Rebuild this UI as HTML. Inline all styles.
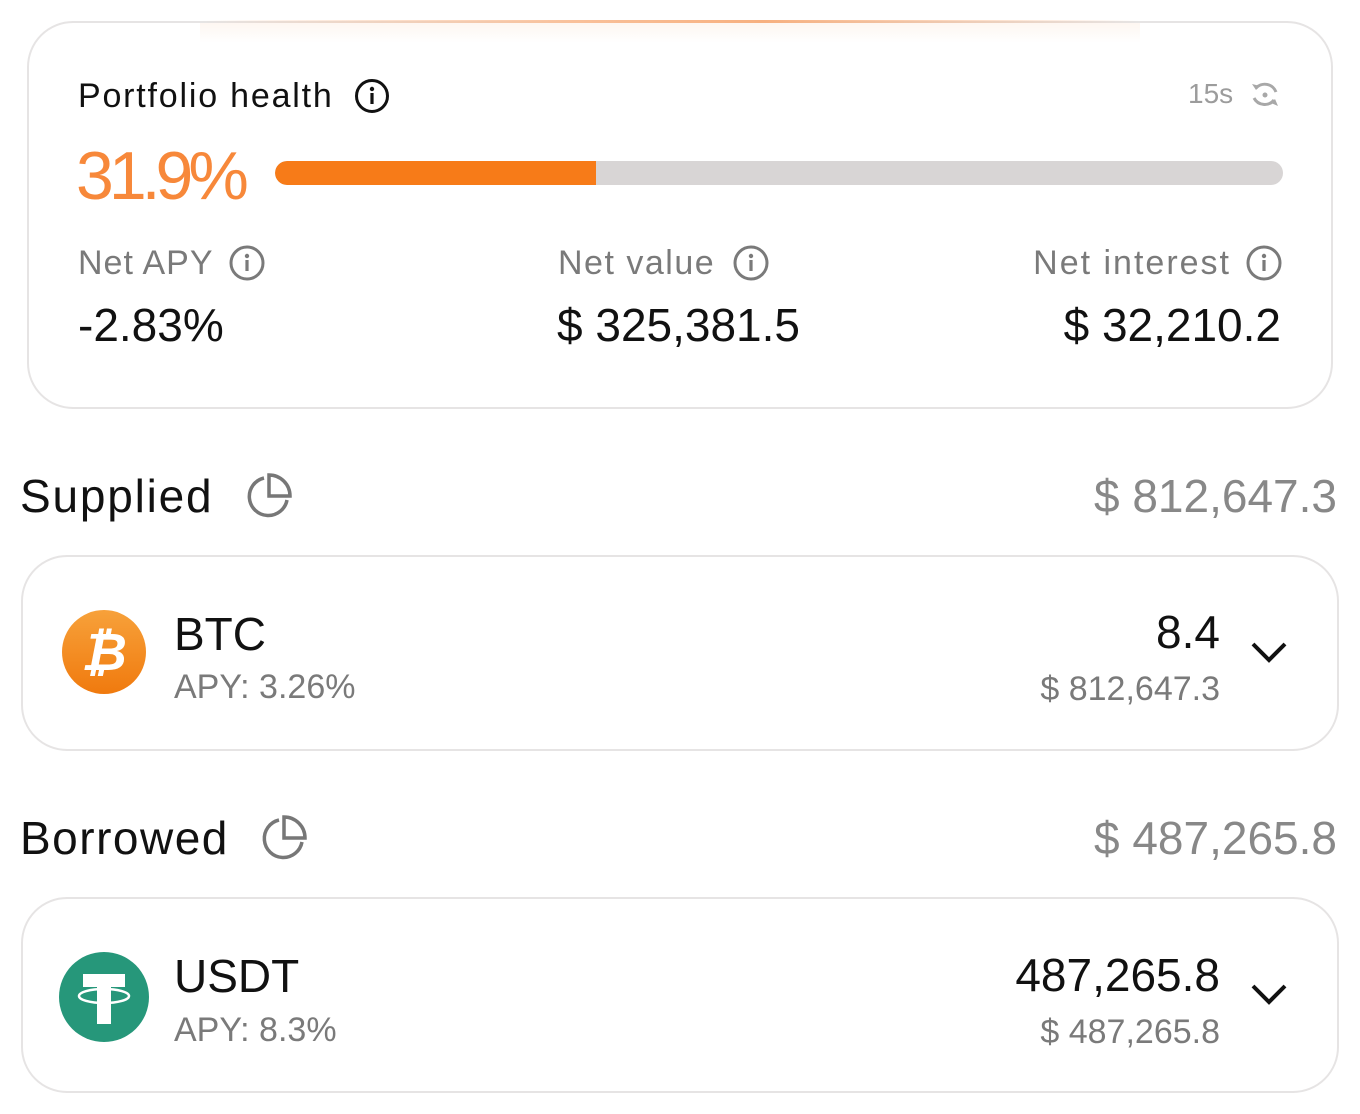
<!DOCTYPE html>
<html><head><meta charset="utf-8"><style>
body{margin:0;width:1360px;height:1114px;background:#fff;font-family:"Liberation Sans",sans-serif;position:relative;overflow:hidden}
.a{position:absolute;white-space:nowrap;line-height:1}
.card{position:absolute;border:2px solid #e6e4e4;border-radius:46px;box-sizing:border-box;background:#fff}
.g{color:#7a7a7a}
</style></head><body>
<div class="card" style="left:27px;top:21px;width:1306px;height:388px"></div>
<div class="a" style="left:200px;top:20px;width:940px;height:3px;background:linear-gradient(90deg,rgba(255,255,255,0),#f9c09a 40%,#f7b080 60%,rgba(255,255,255,0))"></div>
<div class="a" style="left:200px;top:23px;width:940px;height:20px;background:linear-gradient(180deg,rgba(252,230,215,.35),rgba(255,255,255,0))"></div>
<div class="a" style="left:78px;top:79px;font-size:34px;color:#111;letter-spacing:1.8px">Portfolio health</div>
<svg class="a" style="left:354px;top:78px" width="36" height="36"><circle cx="18" cy="18" r="15.5" fill="none" stroke="#111" stroke-width="3"/><circle cx="18" cy="11" r="2.2" fill="#111"/><rect x="16.4" y="15" width="3.2" height="11" fill="#111"/></svg>
<div class="a" style="left:1188px;top:80px;font-size:28px;color:#9c9c9c">15s</div>
<svg class="a" style="left:1248px;top:78px" width="34" height="34" viewBox="0 0 34 34"><path d="M8 10 A12 12 0 0 1 28 14" fill="none" stroke="#a8a8a8" stroke-width="3"/><path d="M26 22 A12 12 0 0 1 6 20" fill="none" stroke="#a8a8a8" stroke-width="3"/><path d="M4 6 L8 12 L12 8Z" fill="#a8a8a8"/><path d="M30 28 L27 21 L23 25Z" fill="#a8a8a8"/><circle cx="17" cy="17" r="2.5" fill="#a8a8a8"/></svg>
<div class="a" style="left:76px;top:142px;font-size:68px;color:#f7883a;letter-spacing:-5px">31.9%</div>
<div class="a" style="left:275px;top:161px;width:1008px;height:24px;border-radius:12px;background:#d8d5d5;overflow:hidden"><div style="width:321px;height:24px;background:#f77b18;border-radius:12px 0 0 12px"></div></div>
<div class="a g" style="left:78px;top:246px;font-size:34px;letter-spacing:1px">Net APY</div>
<svg class="a" style="left:228px;top:244px" width="38" height="38"><circle cx="19" cy="19" r="16" fill="none" stroke="#7a7a7a" stroke-width="3"/><circle cx="19" cy="12" r="2.2" fill="#7a7a7a"/><rect x="17.4" y="16" width="3.2" height="11" fill="#7a7a7a"/></svg>
<div class="a" style="left:78px;top:302px;font-size:46px;color:#111">-2.83%</div>
<div class="a g" style="left:558px;top:246px;font-size:34px;letter-spacing:1.5px">Net value</div>
<svg class="a" style="left:732px;top:244px" width="38" height="38"><circle cx="19" cy="19" r="16" fill="none" stroke="#7a7a7a" stroke-width="3"/><circle cx="19" cy="12" r="2.2" fill="#7a7a7a"/><rect x="17.4" y="16" width="3.2" height="11" fill="#7a7a7a"/></svg>
<div class="a" style="left:557px;top:302px;font-size:46px;color:#111">$ 325,381.5</div>
<div class="a g" style="right:129px;top:246px;font-size:34px;letter-spacing:2px">Net interest</div>
<svg class="a" style="left:1245px;top:244px" width="38" height="38"><circle cx="19" cy="19" r="16" fill="none" stroke="#7a7a7a" stroke-width="3"/><circle cx="19" cy="12" r="2.2" fill="#7a7a7a"/><rect x="17.4" y="16" width="3.2" height="11" fill="#7a7a7a"/></svg>
<div class="a" style="right:79px;top:302px;font-size:46px;color:#111">$ 32,210.2</div>

<div class="a" style="left:20px;top:473px;font-size:46px;color:#111;letter-spacing:1.8px">Supplied</div>
<svg class="a" style="left:242px;top:470px" width="52" height="52" viewBox="0 0 52 52"><path d="M22 8 A19 19 0 1 0 45 30" fill="none" stroke="#777" stroke-width="3.5"/><path d="M27 5 V26 H48 A21 21 0 0 0 27 5Z" fill="none" stroke="#777" stroke-width="3.5"/></svg>
<div class="a" style="right:23px;top:473px;font-size:46px;color:#888">$ 812,647.3</div>
<div class="card" style="left:21px;top:555px;width:1318px;height:196px"></div>
<svg class="a" style="left:62px;top:610px" width="84" height="84"><defs><linearGradient id="bg" x1="0" y1="0" x2="0" y2="1"><stop offset="0" stop-color="#f7a13a"/><stop offset="1" stop-color="#f07a0e"/></linearGradient></defs><circle cx="42" cy="42" r="42" fill="url(#bg)"/><text x="42" y="60" text-anchor="middle" font-size="52" font-weight="bold" font-style="italic" fill="#fff" font-family="Liberation Sans">₿</text></svg>
<div class="a" style="left:174px;top:611px;font-size:46px;color:#111">BTC</div>
<div class="a g" style="left:174px;top:670px;font-size:34px">APY: 3.26%</div>
<div class="a" style="right:140px;top:609px;font-size:46px;color:#111">8.4</div>
<div class="a g" style="right:140px;top:672px;font-size:34px">$ 812,647.3</div>
<svg class="a" style="left:1250px;top:640px" width="38" height="26"><path d="M3 4 L19 20 L35 4" fill="none" stroke="#111" stroke-width="4"/></svg>

<div class="a" style="left:20px;top:815px;font-size:46px;color:#111;letter-spacing:1.5px">Borrowed</div>
<svg class="a" style="left:257px;top:812px" width="52" height="52" viewBox="0 0 52 52"><path d="M22 8 A19 19 0 1 0 45 30" fill="none" stroke="#777" stroke-width="3.5"/><path d="M27 5 V26 H48 A21 21 0 0 0 27 5Z" fill="none" stroke="#777" stroke-width="3.5"/></svg>
<div class="a" style="right:23px;top:815px;font-size:46px;color:#888">$ 487,265.8</div>
<div class="card" style="left:21px;top:897px;width:1318px;height:196px"></div>
<svg class="a" style="left:59px;top:952px" width="90" height="90" viewBox="0 0 90 90"><circle cx="45" cy="45" r="45" fill="#26977a"/><rect x="24" y="22" width="42" height="13" fill="#fff"/><rect x="38" y="22" width="14" height="50" fill="#fff"/><ellipse cx="45" cy="44" rx="25" ry="7" fill="none" stroke="#fff" stroke-width="2.5"/></svg>
<div class="a" style="left:174px;top:953px;font-size:46px;color:#111">USDT</div>
<div class="a g" style="left:174px;top:1013px;font-size:34px">APY: 8.3%</div>
<div class="a" style="right:140px;top:952px;font-size:46px;color:#111">487,265.8</div>
<div class="a g" style="right:140px;top:1015px;font-size:34px">$ 487,265.8</div>
<svg class="a" style="left:1250px;top:982px" width="38" height="26"><path d="M3 4 L19 20 L35 4" fill="none" stroke="#111" stroke-width="4"/></svg>
</body></html>
